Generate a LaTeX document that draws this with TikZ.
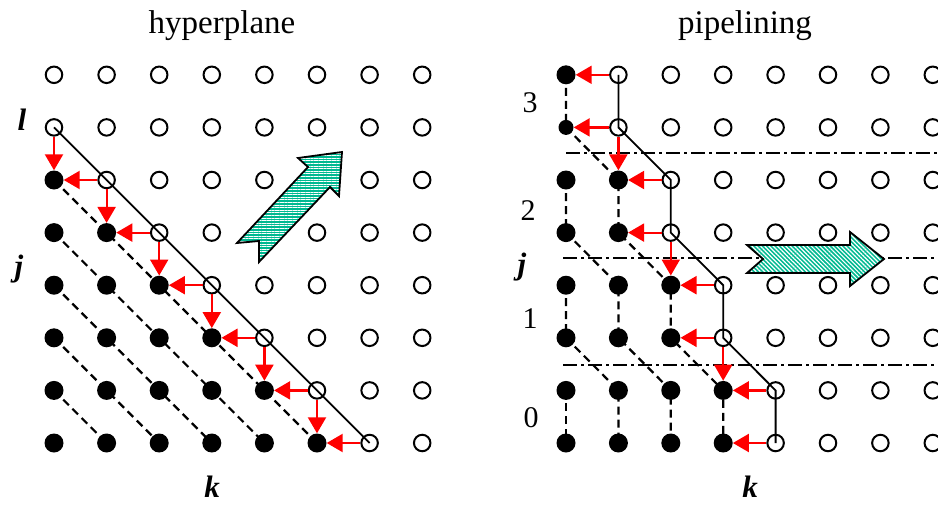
\documentclass[tikz,border=0pt]{standalone}
\usepackage{fontspec}
\setmainfont{Liberation Serif}
\usetikzlibrary{arrows.meta,patterns.meta,backgrounds}
\definecolor{hatchteal}{RGB}{0,185,145}
\begin{document}
\begin{tikzpicture}[x=1pt,y=-1pt,
  opendot/.style={circle,draw=black,line width=2pt,minimum size=16.5pt,inner sep=0pt},
  fulldot/.style={circle,fill=black,minimum size=19pt,inner sep=0pt},
  smalldot/.style={circle,fill=black,minimum size=15pt,inner sep=0pt},
  redarr/.style={draw=red,line width=2.2pt,-{Triangle[length=16pt,width=18pt]}},
  dashline/.style={black,line width=2.2pt,dash pattern=on 8pt off 5pt},
  solidline/.style={black,line width=1.8pt},
  dashdotline/.style={black,line width=1.8pt,dash pattern=on 14pt off 4pt on 3pt off 4pt},
  axislbl/.style={font=\fontsize{31}{31}\selectfont\bfseries\itshape,anchor=base,inner sep=0pt},
  numlbl/.style={font=\fontsize{30}{30}\selectfont,anchor=base,inner sep=0pt},
  titlelbl/.style={font=\fontsize{33}{33}\selectfont,anchor=base,inner sep=0pt},
  bigarrow/.style={draw=black,line width=1.8pt,line join=miter}]
\clip (0,0) rectangle (938,504);

% titles and labels
\node[titlelbl] (t1) at (222,33) {hyperplane};
\node[titlelbl] (t2) at (745,33) {pipelining};
\node[axislbl] (ll) at (22,130) {l};
\node[axislbl] (lj) at (19,276) {j};
\node[axislbl] (lk) at (212,497) {k};
\node[axislbl] (rj) at (522,274) {j};
\node[axislbl] (rk) at (750,497) {k};
\node[numlbl] (n3) at (530,112) {3};
\node[numlbl] (n2) at (528,220) {2};
\node[numlbl] (n1) at (530,328) {1};
\node[numlbl] (n0) at (531,427) {0};

% left grid
\foreach \c in {0,...,7}{
  \foreach \r in {0,...,7}{
    \pgfmathtruncatemacro\s{\c+\r}
    \ifnum\s<6
      \node[fulldot] (L-\c-\r) at ({54+52.6*\c},{443-52.6*\r}) {};
    \else
      \node[opendot] (L-\c-\r) at ({54+52.6*\c},{443-52.6*\r}) {};
    \fi
  }
}
% right grid
\foreach \c in {0,...,7}{
  \foreach \r in {0,...,7}{
    \pgfmathtruncatemacro\lim{3-floor(\r/2)}
    \ifnum\c>\lim
      \node[opendot] (R-\c-\r) at ({566+52.4*\c},{443-52.6*\r}) {};
    \else
      \ifnum\r=6
        \ifnum\c=0
          \node[smalldot] (R-\c-\r) at ({566+52.4*\c},{443-52.6*\r}) {};
        \else
          \node[fulldot] (R-\c-\r) at ({566+52.4*\c},{443-52.6*\r}) {};
        \fi
      \else
        \node[fulldot] (R-\c-\r) at ({566+52.4*\c},{443-52.6*\r}) {};
      \fi
    \fi
  }
}

\coordinate (d1a) at (566,153); \coordinate (d1b) at (938,153);
\coordinate (d2a) at (563,258); \coordinate (d2b) at (938,258);
\coordinate (d3a) at (563,365); \coordinate (d3b) at (938,365);

\begin{scope}[on background layer]
  \draw[solidline] (L-0-6.center) -- (L-6-0.center);
  \foreach \k in {1,...,5}{
    \draw[dashline] (L-0-\k.center) -- (L-\k-0.center);
  }
  \draw[solidline] (R-1-7.center) -- (R-1-6.center) -- (R-2-5.center) -- (R-2-4.center)
     -- (R-3-3.center) -- (R-3-2.center) -- (R-4-1.center) -- (R-4-0.center);
  \draw[dashline] (R-0-7.center) -- (R-0-6.center) -- (R-1-5.center) -- (R-1-4.center)
     -- (R-2-3.center) -- (R-2-2.center) -- (R-3-1.center) -- (R-3-0.center);
  \draw[dashline] (R-0-5.center) -- (R-0-4.center) -- (R-1-3.center) -- (R-1-2.center)
     -- (R-2-1.center) -- (R-2-0.center);
  \draw[dashline] (R-0-3.center) -- (R-0-2.center) -- (R-1-1.center) -- (R-1-0.center);
  \draw[dashline] (R-0-1.center) -- (R-0-0.center);
  \draw[dashdotline] (d1a) -- (d1b);
  \draw[dashdotline] (d2a) -- (d2b);
  \draw[dashdotline] (d3a) -- (d3b);
\end{scope}

% red arrows left
\draw[redarr] (L-0-6) -- (L-0-5);
\foreach \c in {1,...,5}{
  \pgfmathtruncatemacro\r{6-\c}
  \pgfmathtruncatemacro\cm{\c-1}
  \pgfmathtruncatemacro\rm{5-\c}
  \draw[redarr] (L-\c-\r) -- (L-\cm-\r);
  \draw[redarr] (L-\c-\r) -- (L-\c-\rm);
}
\draw[redarr] (L-6-0) -- (L-5-0);

% red arrows right
\draw[redarr] (R-1-7) -- (R-0-7);
\draw[redarr] (R-1-6) -- (R-0-6);
\draw[redarr] (R-1-6) -- (R-1-5);
\draw[redarr] (R-2-5) -- (R-1-5);
\draw[redarr] (R-2-4) -- (R-1-4);
\draw[redarr] (R-2-4) -- (R-2-3);
\draw[redarr] (R-3-3) -- (R-2-3);
\draw[redarr] (R-3-2) -- (R-2-2);
\draw[redarr] (R-3-2) -- (R-3-1);
\draw[redarr] (R-4-1) -- (R-3-1);
\draw[redarr] (R-4-0) -- (R-3-0);

% big hatched arrows
\def\leftarrowpath{(237,243) -- (308,167) -- (298,158) -- (342,152) -- (339,196) -- (330,187) -- (259,262) -- (259,241) -- cycle}
\fill[hatchteal] \leftarrowpath;
\fill[pattern={Lines[angle=0,distance=2.6pt,line width=0.7pt]},pattern color=white] \leftarrowpath;
\draw[bigarrow] \leftarrowpath;

\def\rightarrowpath{(747,245) -- (850,245) -- (850,232) -- (884,259) -- (850,286) -- (850,273) -- (747,273) -- (763,259) -- cycle}
\fill[hatchteal] \rightarrowpath;
\fill[pattern={Lines[angle=-45,distance=3pt,line width=1.2pt]},pattern color=white] \rightarrowpath;
\draw[bigarrow] \rightarrowpath;
\end{tikzpicture}
\end{document}
